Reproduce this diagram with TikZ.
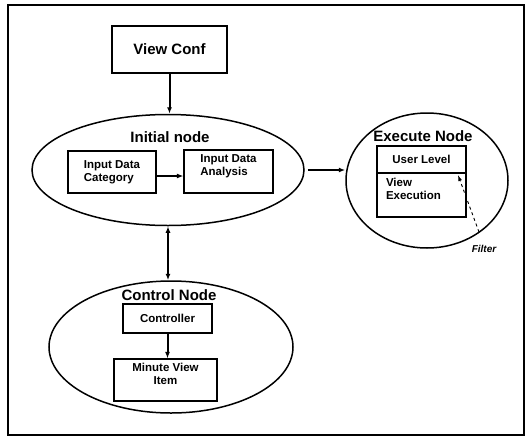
\documentclass[tikz,border=0pt]{standalone}
\usepackage{fontspec}
\setmainfont{Liberation Sans}
\usetikzlibrary{shapes.geometric,arrows.meta}
\tikzset{
  box/.style={draw,line width=1.2pt,rectangle,inner sep=0pt,font=\bfseries\fontsize{11.5}{13}\selectfont},
  oval/.style={draw,line width=1.5pt,ellipse,inner sep=0pt},
  title/.style={font=\bfseries\fontsize{15}{17}\selectfont,inner sep=0pt},
  conn/.style={line width=2pt,-{Latex[length=6.5pt,width=5pt]}},
  dconn/.style={line width=2pt,{Latex[length=6.5pt,width=5pt]}-{Latex[length=6.5pt,width=5pt]}},
}
\begin{document}
\begin{tikzpicture}[x=1pt,y=-1pt]
\useasboundingbox (0,0) rectangle (528,437);
\draw[line width=1.6pt] (8,5) rectangle (524,435);
% top box
\node[box,font=\bfseries\fontsize{15}{17}\selectfont,minimum width=115pt,minimum height=47pt] (viewconf) at (169.5,49.5) {View Conf};
% initial node
\node[oval,minimum width=272pt,minimum height=111pt] (initial) at (168,170) {};
\node[title] (initlab) at (170,137) {Initial node};
\node[box,align=left,minimum width=88pt,minimum height=42pt] (idc) at (112,172) {Input Data\\Category};
\node[box,align=left,minimum width=89pt,minimum height=43pt] (ida) at (228.5,171.5) {Input Data\\Analysis\\[-4pt]\strut};
% execute node
\node[oval,minimum width=162pt,minimum height=135pt] (exec) at (427,180.5) {};
\node[title] (execlab) at (423,136) {Execute Node};
\node[box,minimum width=89pt,minimum height=27pt] (user) at (421.5,159.5) {User Level};
\node[box,align=left,minimum width=89pt,minimum height=44pt,text width=71pt] (vexec) at (421.5,195) {View\\Execution\\[-4pt]\strut};
% control node
\node[oval,minimum width=244pt,minimum height=132pt] (control) at (171,347) {};
\node[title] (ctrllab) at (169,295) {Control Node};
\node[box,minimum width=89pt,minimum height=29pt] (ctrl) at (167.5,318.5) {Controller};
\node[box,align=center,minimum width=103pt,minimum height=42pt] (minute) at (165.5,380) {Minute View\\Item\\[-4pt]\strut};
% filter
\node[font=\bfseries\itshape\fontsize{10}{12}\selectfont,inner sep=0pt] (filter) at (484,249) {Filter};
\coordinate (fstart) at (479,232);
\coordinate (ftip) at (458,175);
% connectors
\draw[conn] (viewconf.south) -- (viewconf.south |- initial.north);
\draw[conn] ([yshift=-4pt]idc.east) -- ([yshift=-4pt]idc.east -| ida.west);
\draw[conn] ([xshift=3pt]initial.east) -- (initial.east -| exec.west);
\draw[dconn] (initial.south) -- (initial.south |- control.north);
\draw[conn] (ctrl.south) -- (ctrl.south |- minute.north);
\draw[line width=0.9pt,dashed,-{Latex[length=6pt,width=4pt]}] (fstart) -- (ftip);
\end{tikzpicture}
\end{document}
